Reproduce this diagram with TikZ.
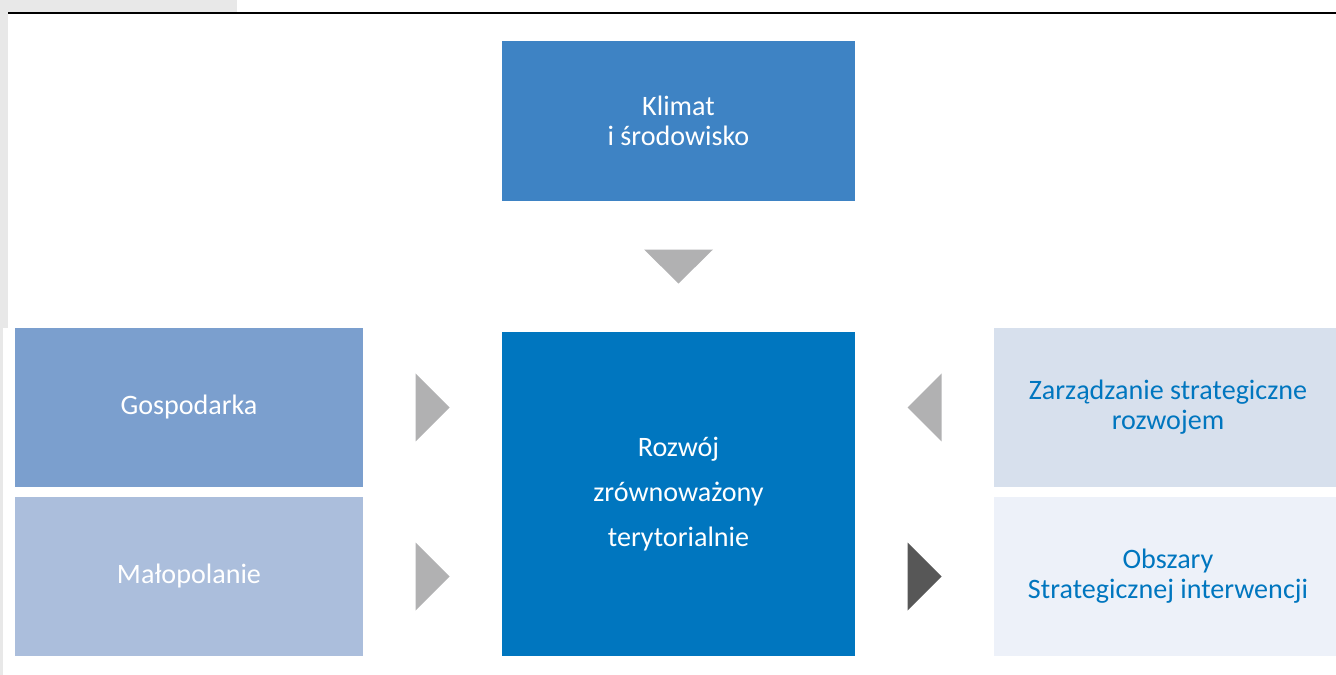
\documentclass[tikz,border=0pt]{standalone}
\usepackage{fontspec}
\setmainfont{Carlito}
\usetikzlibrary{calc}
\definecolor{bggray}{HTML}{E8E8E8}
\definecolor{klimatblue}{HTML}{3E83C4}
\definecolor{corblue}{HTML}{0076BF}
\definecolor{gosblue}{HTML}{7B9FCE}
\definecolor{maloblue}{HTML}{ABBEDC}
\definecolor{zarzblue}{HTML}{D7E0ED}
\definecolor{obszblue}{HTML}{EDF1F9}
\definecolor{arrgray}{HTML}{B1B1B2}
\definecolor{arrdark}{HTML}{575757}

\begin{document}
\begin{tikzpicture}[x=0.02cm, y=-0.02cm,
    box/.style={rectangle, inner sep=0pt, align=center, text=white,
        minimum width=6.96cm, minimum height=3.18cm,
        font=\fontsize{16}{17}\selectfont},
    bluetext/.style={text=corblue}]
        \useasboundingbox (0,0) rectangle (1336,675);
        % background strip and rule
        \fill[bggray] (0,0) rectangle (237,12);
        \fill[bggray] (0,0) rectangle (8,328);
        \fill[bggray] (0,328) rectangle (3,675);
        \draw[line width=1.7pt] (8,13) -- (1336,13);
        % boxes
        \node[box, fill=klimatblue, minimum width=7.06cm, minimum height=3.2cm] (klimat) at (678.5,121) {Klimat\\i środowisko};
        \node[box, fill=corblue, minimum width=7.06cm, minimum height=6.48cm,
            font=\fontsize{16}{25.6}\selectfont] (rozwoj) at (678.5,494) {Rozwój\\zrównoważony\\terytorialnie};
        \node[box, fill=gosblue] (gos) at (189,407.5) {Gospodarka};
        \node[box, fill=maloblue] (malo) at (189,576.5) {Małopolanie};
        \node[box, fill=zarzblue, bluetext] (zarz) at (1168,407.5) {Zarządzanie strategiczne\\rozwojem};
        \node[box, fill=obszblue, bluetext] (obsz) at (1168,576.5) {Obszary\\Strategicznej interwencji};
        % arrow triangles
        \fill[arrgray] ($(klimat.south)!.5!(rozwoj.north)$) ++(-34.5,-17) -- ++(69,0) -- ++(-34.5,34) -- cycle;
        \fill[arrgray] ($(gos.east)!.5!(gos.east -| rozwoj.west)$) ++(-17,-34) -- ++(0,68) -- ++(34,-34) -- cycle;
        \fill[arrgray] ($(malo.east)!.5!(malo.east -| rozwoj.west)$) ++(-17,-34) -- ++(0,68) -- ++(34,-34) -- cycle;
        \fill[arrgray] ($(zarz.west)!.5!(zarz.west -| rozwoj.east)$) ++(17,-34) -- ++(0,68) -- ++(-34,-34) -- cycle;
        \fill[arrdark] ($(obsz.west)!.5!(obsz.west -| rozwoj.east)$) ++(-17,-34) -- ++(0,68) -- ++(34,-34) -- cycle;
    \end{tikzpicture}
\end{document}
